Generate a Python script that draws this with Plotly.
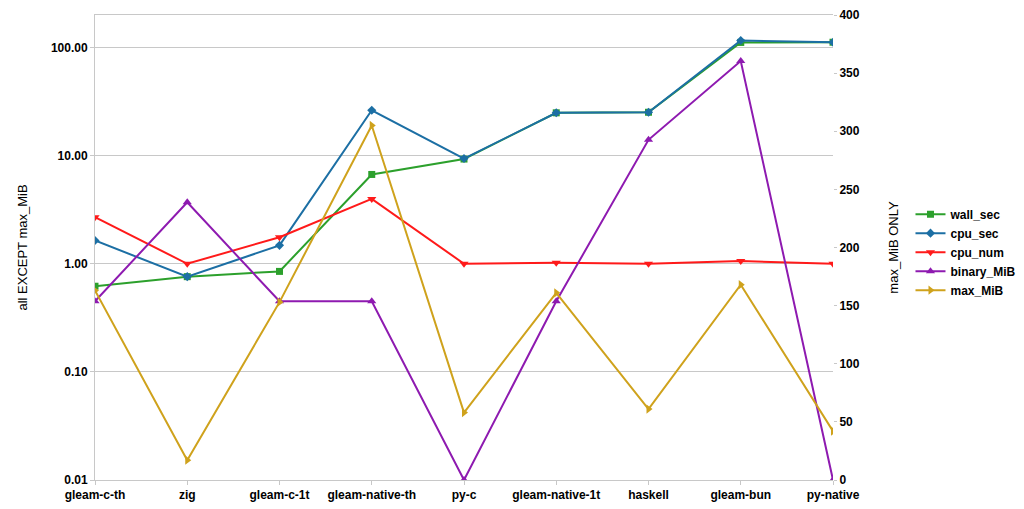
import plotly.graph_objects as go

# benchmark programs (x axis)
programs = ["gleam-c-th", "zig", "gleam-c-1t", "gleam-native-th", "py-c",
            "gleam-native-1t", "haskell", "gleam-bun", "py-native"]

# left (log) axis series
wall_sec = [0.62, 0.76, 0.85, 6.7, 9.3, 24.9, 25.2, 111.5, 112.0]
cpu_sec = [1.64, 0.76, 1.48, 26.3, 9.4, 24.9, 25.2, 116.0, 112.0]
cpu_num = [2.7, 1.0, 1.76, 3.98, 1.0, 1.02, 1.0, 1.06, 1.0]
binary_mib = [0.45, 3.7, 0.45, 0.45, 0.01, 0.45, 14.0, 75.0, 0.01]

# right (linear) axis series
max_mib = [163, 17, 153, 305, 58, 161, 61, 168, 42]

FONT = "Liberation Sans"
GRID = "#c8c8c8"

fig = go.Figure()

left_series = [
    ("wall_sec", wall_sec, "#2ca02c", "square", 7),
    ("cpu_sec", cpu_sec, "#1c6fa4", "diamond", 7),
    ("cpu_num", cpu_num, "#ff1a1a", "triangle-down", 8),
    ("binary_MiB", binary_mib, "#8e1ab0", "triangle-up", 8),
]
for name, vals, color, symbol, size in left_series:
    fig.add_trace(go.Scatter(
        x=programs, y=vals, name=name, mode="lines+markers",
        line=dict(color=color, width=2),
        marker=dict(symbol=symbol, size=size, color=color),
    ))

fig.add_trace(go.Scatter(
    x=programs, y=max_mib, name="max_MiB", mode="lines+markers", yaxis="y2",
    line=dict(color="#cfa21c", width=2),
    marker=dict(symbol="triangle-right", size=8, color="#cfa21c"),
))

# the page body keeps its default 8px margin, so the figure is 8px smaller
fig.update_layout(
    width=1016,
    height=501,
    margin=dict(l=87, r=191, t=7, b=29, autoexpand=False),
    plot_bgcolor="white",
    paper_bgcolor="white",
    font=dict(family=FONT, size=12, color="#000000"),
    xaxis=dict(
        type="category",
        range=[0, 8],
        automargin=False,
        showgrid=False,
        showline=True, linecolor=GRID, linewidth=1, mirror=True,
        ticks="outside", ticklen=4, tickcolor=GRID,
        tickfont=dict(family=FONT, size=12, weight="bold"),
    ),
    yaxis=dict(
        type="log",
        range=[-2, 2.301],
        automargin=False,
        tickvals=[0.01, 0.1, 1, 10, 100],
        ticktext=["0.01", "0.10", "1.00", "10.00", "100.00"],
        showgrid=True, gridcolor=GRID,
        showline=True, linecolor=GRID, linewidth=1,
        ticks="outside", ticklen=4, tickcolor=GRID,
        zeroline=False,
        tickfont=dict(family=FONT, size=12, weight="bold"),
        title=dict(text="all EXCEPT max_MiB", font=dict(family=FONT, size=13), standoff=20),
    ),
    yaxis2=dict(
        overlaying="y",
        side="right",
        range=[0, 400],
        dtick=50,
        automargin=False,
        showgrid=False,
        zeroline=False,
        ticks="outside", ticklen=3, tickcolor=GRID,
        tickfont=dict(family=FONT, size=12, weight="bold"),
        title=dict(text="max_MiB ONLY", font=dict(family=FONT, size=13), standoff=30),
    ),
    legend=dict(
        x=1.105, y=0.49, xanchor="left", yanchor="middle",
        font=dict(family=FONT, size=12, weight="bold"),
        tracegroupgap=0, itemwidth=30,
        bgcolor="rgba(0,0,0,0)",
    ),
)

fig.write_html("out.html")
